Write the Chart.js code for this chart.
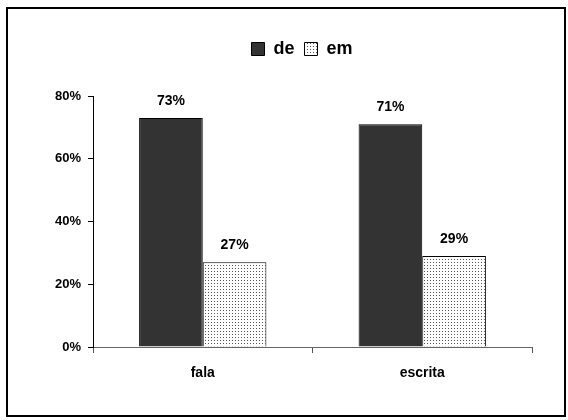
<!DOCTYPE html>
<html>
<head>
<meta charset="utf-8">
<script src="https://cdn.jsdelivr.net/npm/chart.js@4"></script>
<style>
  html, body { margin: 0; padding: 0; background: #fff; }
  #wrap { position: relative; width: 568px; height: 420px; }
  #frame { position: absolute; left: 6px; top: 7px; width: 556px; height: 406px; border: 2px solid #000; pointer-events: none; }
  canvas { position: absolute; left: 0; top: 0; }
</style>
</head>
<body>
<div id="wrap">
  <canvas id="chart" width="568" height="420"></canvas>
  <div id="frame"></div>
</div>
<script>
const categories = ['fala', 'escrita'];
const seriesNames = ['de', 'em'];
const deValues = [73, 71];
const emValues = [27, 29];
const yTicks = [0, 20, 40, 60, 80];

const FONT = '"Liberation Sans", Arial, sans-serif';

// stippled fill for the "em" bars
function dotPattern() {
  const c = document.createElement('canvas');
  c.width = 3; c.height = 3;
  const g = c.getContext('2d');
  g.fillStyle = '#fff';
  g.fillRect(0, 0, 3, 3);
  g.fillStyle = '#555';
  g.fillRect(1, 1, 1, 1);
  return g.createPattern(c, 'repeat');
}

// legend sits a bit right of centre, with extra room below it
const legendPlacement = {
  id: 'legendPlacement',
  beforeInit(chart) {
    const fit = chart.legend.fit;
    chart.legend.fit = function () {
      fit.call(this);
      this.height += 28;
    };
  },
  afterLayout(chart) {
    chart.legend.left += 36;
    chart.legend.right += 36;
  }
};

// percentage text above each bar
const valueLabels = {
  id: 'valueLabels',
  afterDatasetsDraw(chart) {
    const ctx = chart.ctx;
    ctx.save();
    ctx.font = 'bold 14px ' + FONT;
    ctx.fillStyle = '#000';
    ctx.textAlign = 'center';
    ctx.textBaseline = 'middle';
    chart.data.datasets.forEach((ds, di) => {
      chart.getDatasetMeta(di).data.forEach((bar, i) => {
        ctx.fillText(ds.data[i] + '%', bar.x, bar.y - 17);
      });
    });
    ctx.restore();
  }
};

new Chart(document.getElementById('chart'), {
  type: 'bar',
  data: {
    labels: categories,
    datasets: [
      { label: seriesNames[0], data: deValues, backgroundColor: '#333333', borderColor: '#000', borderWidth: 1 },
      { label: seriesNames[1], data: emValues, backgroundColor: dotPattern(), borderColor: '#000', borderWidth: 1 }
    ]
  },
  options: {
    responsive: false,
    animation: false,
    layout: { padding: { top: 30, right: 36, left: 0, bottom: 0 } },
    datasets: { bar: { categoryPercentage: 0.58, barPercentage: 1 } },
    plugins: {
      tooltip: { enabled: false },
      legend: {
        position: 'top',
        labels: {
          font: { family: FONT, size: 18, weight: 'bold' },
          color: '#000',
          boxWidth: 13,
          boxHeight: 13,
          padding: 10
        }
      }
    },
    scales: {
      x: {
        afterFit(scale) { scale.height = 73; },
        grid: { drawOnChartArea: false, tickLength: 6, color: '#555', offset: true },
        border: { color: '#666', width: 1 },
        ticks: { font: { family: FONT, size: 14, weight: 'bold' }, color: '#000', padding: 12 }
      },
      y: {
        min: 0,
        max: 80,
        afterFit(scale) { scale.width = 93; },
        afterBuildTicks(scale) { scale.ticks = yTicks.map(v => ({ value: v })); },
        grid: { drawOnChartArea: false, tickLength: 5, color: '#000' },
        border: { color: '#000', width: 1 },
        ticks: {
          font: { family: FONT, size: 13, weight: 'bold' },
          color: '#000',
          padding: 7,
          callback: v => v + '%'
        }
      }
    }
  },
  plugins: [legendPlacement, valueLabels]
});
</script>
</body>
</html>
